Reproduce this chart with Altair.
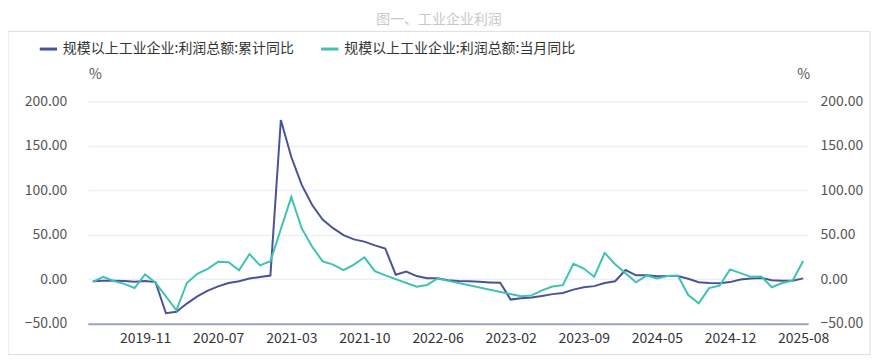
import altair as alt
import pandas as pd

months = [
    "2019-06", "2019-07", "2019-08", "2019-09", "2019-10", "2019-11", "2019-12",
    "2020-02", "2020-03", "2020-04", "2020-05", "2020-06", "2020-07", "2020-08", "2020-09", "2020-10", "2020-11", "2020-12",
    "2021-02", "2021-03", "2021-04", "2021-05", "2021-06", "2021-07", "2021-08", "2021-09", "2021-10", "2021-11", "2021-12",
    "2022-02", "2022-03", "2022-04", "2022-05", "2022-06", "2022-07", "2022-08", "2022-09", "2022-10", "2022-11", "2022-12",
    "2023-02", "2023-03", "2023-04", "2023-05", "2023-06", "2023-07", "2023-08", "2023-09", "2023-10", "2023-11", "2023-12",
    "2024-02", "2024-03", "2024-04", "2024-05", "2024-06", "2024-07", "2024-08", "2024-09", "2024-10", "2024-11", "2024-12",
    "2025-02", "2025-03", "2025-04", "2025-05", "2025-06", "2025-07", "2025-08",
]

cumulative = [
    -2.4, -1.7, -1.7, -2.1, -2.9, -2.1, -3.3,
    -38.3, -36.7, -27.4, -19.3, -12.8, -8.1, -4.4, -2.4, 0.7, 2.4, 4.1,
    178.9, 137.3, 106.0, 83.4, 66.9, 57.3, 49.5, 44.7, 42.2, 38.0, 34.3,
    5.0, 8.5, 3.5, 1.0, 1.0, -1.1, -2.1, -2.3, -3.0, -3.6, -4.0,
    -22.9, -21.4, -20.6, -18.8, -16.8, -15.5, -11.7, -9.0, -7.8, -4.4, -2.3,
    10.2, 4.3, 4.3, 3.4, 3.5, 3.6, 0.5, -3.5, -4.3, -4.7, -3.3,
    -0.3, 0.8, 1.4, -1.1, -1.8, -1.7, 0.9,
]

current = [
    -3.1, 2.6, -2.0, -5.3, -9.9, 5.4, -4.0,
    None, -34.9, -4.3, 6.0, 11.5, 19.6, 19.1, 10.1, 28.2, 15.5, 20.1,
    None, 92.3, 57.0, 36.4, 20.0, 16.4, 10.1, 16.3, 24.6, 9.0, 4.2,
    None, None, -8.5, -6.5, 0.8, None, None, None, None, None, None,
    None, -19.2, -18.2, -12.6, -8.3, -6.7, 17.2, 11.9, 2.7, 29.5, 16.8,
    None, -3.5, 4.0, 0.7, 3.6, 4.1, -17.8, -27.1, -10.0, -7.3, 11.0,
    None, 2.6, 3.0, -9.1, -4.3, -1.5, 20.4,
]

x_labels = ["2019-11", "2020-07", "2021-03", "2021-10", "2022-06",
            "2023-02", "2023-09", "2024-05", "2024-12", "2025-08"]
y_ticks = [-50, 0, 50, 100, 150, 200]

S1 = "规模以上工业企业:利润总额:累计同比"
S2 = "规模以上工业企业:利润总额:当月同比"
COLORS = ["#4A5398", "#3EC2B4"]
FONT = "Noto Sans CJK SC"

df = pd.DataFrame({"month": months, S1: cumulative, S2: current})
long = df.melt("month", var_name="series", value_name="value").dropna()

W, H = 722, 223

x_enc = alt.X(
    "month:O", sort=months,
    scale=alt.Scale(type="point", padding=0.48),
    axis=alt.Axis(values=x_labels, labelAngle=0, title=None, ticks=False,
                  domainColor="#9BA2C4", domainWidth=2, grid=False,
                  labelColor="#333333", labelFontSize=14, labelPadding=8,
                  labelFont=FONT),
)

color_enc = alt.Color(
    "series:N",
    scale=alt.Scale(domain=[S1, S2], range=COLORS),
    legend=alt.Legend(orient="none", legendX=-50, legendY=-63, direction="horizontal",
                      title=None, symbolType="stroke", symbolStrokeWidth=3,
                      symbolSize=300, labelFontSize=14, labelColor="#333333",
                      labelFont=FONT, labelLimit=500, columnPadding=20, labelOffset=4),
)

def yaxis(orient, title_x, pad):
    return alt.Axis(orient=orient, values=y_ticks, format=".2f", title="%",
                    titleAngle=0, titleX=title_x, titleY=-20, titleFontWeight="normal",
                    titleFontSize=14, titleColor="#555555", titleFont=FONT,
                    labelColor="#555555", labelFontSize=14, labelFont=FONT,
                    labelPadding=pad, domain=False, ticks=False,
                    grid=(orient == "left"), gridColor="#EEF0F8", gridWidth=1.5)

yscale = alt.Scale(domain=[-50, 200], nice=False, zero=False)

box = alt.Chart(alt.Data(values=[{}])).mark_rect(
    fill=None, stroke="#DDDDDD", strokeWidth=1
).encode(
    x=alt.value(-80), x2=alt.value(W + 62), y=alt.value(-70), y2=alt.value(H + 31)
)

blue = alt.Chart(long).transform_filter(alt.datum.series == S1).mark_line(
    strokeWidth=2
).encode(
    x=x_enc,
    y=alt.Y("value:Q", scale=yscale, axis=yaxis("left", 7, 21)),
    color=color_enc,
)

green = alt.Chart(long).transform_filter(alt.datum.series == S2).mark_line(
    strokeWidth=2
).encode(
    x=x_enc,
    y=alt.Y("value:Q", scale=yscale, axis=yaxis("right", -5, 12)),
    color=color_enc,
)

chart = alt.layer(box, blue, green).resolve_scale(y="independent").properties(
    width=W, height=H,
    title=alt.TitleParams("图一、工业企业利润", color="#C8C8C8", fontSize=14,
                          fontWeight="normal", font=FONT, anchor="middle",
                          offset=4, dx=-9),
    padding={"left": 80, "top": 93, "right": 63, "bottom": 34},
    autosize=alt.AutoSizeParams(type="none"),
).configure_view(stroke=None)

chart.save("out.html", embed_options={"renderer": "svg", "actions": False})
